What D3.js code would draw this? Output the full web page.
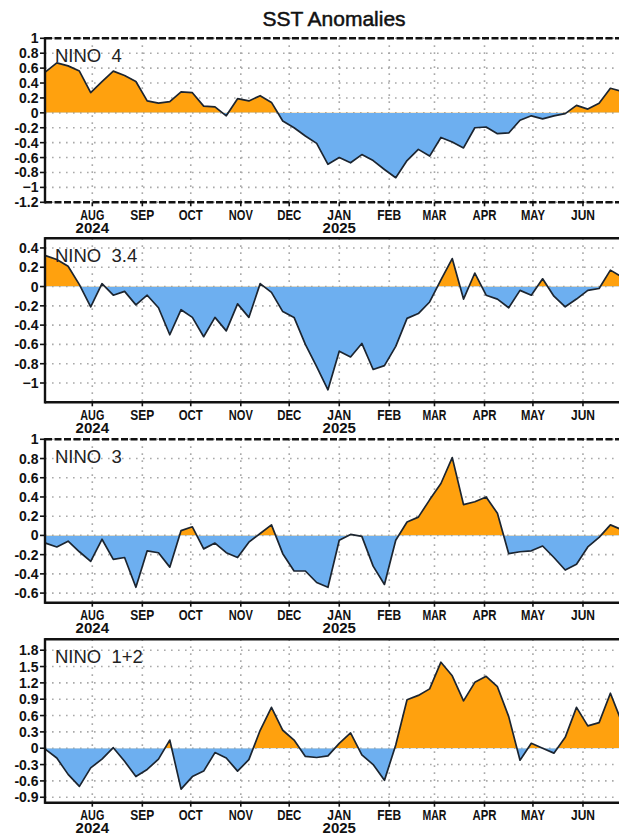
<!DOCTYPE html>
<html>
<head>
<meta charset="utf-8">
<script src="https://cdn.jsdelivr.net/npm/d3@7"></script>
<style>
  html, body { margin: 0; padding: 0; background: #fff; }
  svg { display: block; }
  text { font-family: "Liberation Sans", Arial, sans-serif; }
</style>
</head>
<body>
<svg id="chart" width="619" height="835"></svg>
<script>
// ---------------- DATA ----------------
const title = "SST Anomalies";
const firstWeek = "2024-07-03";   // weekly values (Wednesday-centred)
const monthLabels = ["AUG","SEP","OCT","NOV","DEC","JAN","FEB","MAR","APR","MAY","JUN"];
const monthDates = ["2024-08-01","2024-09-01","2024-10-01","2024-11-01","2024-12-01",
                    "2025-01-01","2025-02-01","2025-03-01","2025-04-01","2025-05-01","2025-06-01"];
const yearLabels = ["2024","2025"];
const yearDates = ["2024-08-01","2025-01-01"];

const panelNames = ["NINO  4", "NINO  3.4", "NINO  3", "NINO  1+2"];

const nino4 = [0.55,0.67,0.63,0.56,0.27,0.42,0.56,0.50,0.42,0.16,0.13,0.15,0.28,0.27,0.09,0.08,-0.04,
  0.19,0.16,0.23,0.14,-0.11,-0.20,-0.31,-0.41,-0.69,-0.60,-0.67,-0.56,-0.64,-0.76,-0.87,-0.64,-0.49,
  -0.58,-0.33,-0.39,-0.47,-0.20,-0.19,-0.28,-0.27,-0.10,-0.04,-0.08,-0.04,-0.01,0.10,0.05,0.13,0.33,0.29];
const nino34 = [0.32,0.28,0.21,0.02,-0.21,0.03,-0.09,-0.05,-0.19,-0.09,-0.22,-0.50,-0.24,-0.32,-0.52,
  -0.32,-0.46,-0.18,-0.32,0.03,-0.06,-0.26,-0.32,-0.60,-0.83,-1.07,-0.67,-0.73,-0.59,-0.86,-0.82,-0.62,
  -0.33,-0.28,-0.16,0.07,0.29,-0.13,0.14,-0.09,-0.13,-0.22,-0.04,-0.09,0.08,-0.10,-0.21,-0.13,-0.04,-0.02,0.17,0.10];
const nino3 = [-0.08,-0.12,-0.06,-0.17,-0.27,-0.04,-0.25,-0.23,-0.54,-0.16,-0.18,-0.33,0.05,0.09,-0.14,
  -0.08,-0.18,-0.23,-0.07,0.02,0.11,-0.19,-0.37,-0.37,-0.49,-0.54,-0.05,0.01,-0.01,-0.32,-0.51,-0.05,
  0.14,0.19,0.37,0.54,0.81,0.32,0.35,0.40,0.23,-0.19,-0.17,-0.16,-0.11,-0.23,-0.36,-0.30,-0.12,-0.02,0.11,0.06];
const nino12 = [-0.02,-0.18,-0.48,-0.70,-0.36,-0.20,0.01,-0.24,-0.52,-0.39,-0.20,0.15,-0.75,-0.52,-0.42,
  -0.08,-0.18,-0.42,-0.21,0.33,0.75,0.33,0.15,-0.15,-0.17,-0.14,0.09,0.28,-0.12,-0.30,-0.59,0.06,
  0.89,0.97,1.09,1.58,1.33,0.87,1.21,1.32,1.13,0.58,-0.22,0.09,0.00,-0.09,0.20,0.75,0.41,0.47,1.01,0.48];

const ticks4  = [1,0.8,0.6,0.4,0.2,0,-0.2,-0.4,-0.6,-0.8,-1,-1.2];
const ticks34 = [0.4,0.2,0,-0.2,-0.4,-0.6,-0.8,-1];
const ticks3  = [1,0.8,0.6,0.4,0.2,0,-0.2,-0.4,-0.6];
const ticks12 = [1.8,1.5,1.2,0.9,0.6,0.3,0,-0.3,-0.6,-0.9];

const domain4 = [-1.2, 1], domain34 = [-1.2, 0.5], domain3 = [-0.7, 1], domain12 = [-1, 2];

// ---------------- LAYOUT ----------------
const svg = d3.select("#chart");
const posColor = "#FFA10E", negColor = "#6DAFF0", lineColor = "#1c2530";
const left = 45, right = 626;
const panelTops = [38.3, 238.3, 439.3, 639.3];
const panelBottoms = [202.3, 402.3, 602.7, 802.7];

const parse = d3.utcParse("%Y-%m-%d");
const t0 = parse(firstWeek);
const x = d3.scaleUtc()
  .domain([t0, d3.utcDay.offset(t0, 357)])
  .range([45.5, 45.5 + 357 * 1.614]);

const panels = [
  {name: panelNames[0], values: nino4,  domain: domain4,  ticks: ticks4},
  {name: panelNames[1], values: nino34, domain: domain34, ticks: ticks34},
  {name: panelNames[2], values: nino3,  domain: domain3,  ticks: ticks3},
  {name: panelNames[3], values: nino12, domain: domain12, ticks: ticks12},
];

function fmt(v) {
  const r = Math.round(v * 10) / 10;
  if (r === 0) return "0";
  if (Number.isInteger(r) && r < 0) return "\u2212" + Math.abs(r);
  return String(r);
}

svg.append("text")
  .attr("x", 334).attr("y", 26)
  .attr("text-anchor", "middle")
  .attr("font-size", 21).attr("font-weight", "normal")
  .attr("fill", "#111").attr("stroke", "#111").attr("stroke-width", 0.5)
  .text(title);

const defs = svg.append("defs");

panels.forEach((p, i) => {
  const top = panelTops[i], bottom = panelBottoms[i];
  const y = d3.scaleLinear().domain(p.domain).range([bottom, top]);
  const g = svg.append("g");
  const data = p.values.map((v, k) => ({date: d3.utcDay.offset(t0, 7 * k), v}));
  const y0 = y(0);

  // clip paths for positive / negative fill
  defs.append("clipPath").attr("id", "pos" + i)
    .append("rect").attr("x", left).attr("y", top).attr("width", right - left).attr("height", y0 - top);
  defs.append("clipPath").attr("id", "neg" + i)
    .append("rect").attr("x", left).attr("y", y0).attr("width", right - left).attr("height", bottom - y0);
  defs.append("clipPath").attr("id", "plot" + i)
    .append("rect").attr("x", left).attr("y", top).attr("width", right - left).attr("height", bottom - top);

  // gridlines
  const grid = g.append("g").attr("stroke", "#a9a9a9").attr("stroke-width", 1.6)
    .attr("stroke-dasharray", "1.6,5.4");
  p.ticks.forEach(t => {
    grid.append("line").attr("x1", left).attr("x2", right).attr("y1", y(t)).attr("y2", y(t));
  });
  monthDates.forEach(d => {
    const xx = x(parse(d));
    grid.append("line").attr("x1", xx).attr("x2", xx).attr("y1", top).attr("y2", bottom);
  });

  // fills
  const area = d3.area().x(d => x(d.date)).y0(y0).y1(d => y(d.v));
  g.append("path").datum(data).attr("d", area).attr("fill", posColor).attr("clip-path", `url(#pos${i})`);
  g.append("path").datum(data).attr("d", area).attr("fill", negColor).attr("clip-path", `url(#neg${i})`);

  // line
  const line = d3.line().x(d => x(d.date)).y(d => y(d.v));
  g.append("path").datum(data).attr("d", line).attr("fill", "none")
    .attr("stroke", lineColor).attr("stroke-width", 1.7).attr("stroke-linejoin", "round")
    .attr("clip-path", `url(#plot${i})`);

  // frame
  const isTick = v => p.ticks.some(t => Math.abs(t - v) < 1e-6);
  const frame = g.append("g").attr("stroke", "#111").attr("stroke-width", 2.4);
  frame.append("line").attr("x1", left).attr("x2", right).attr("y1", top).attr("y2", top)
    .attr("stroke-dasharray", isTick(p.domain[1]) ? "7,2.5" : null);
  frame.append("line").attr("x1", left).attr("x2", right).attr("y1", bottom).attr("y2", bottom)
    .attr("stroke-dasharray", isTick(p.domain[0]) ? "7,2.5" : null);
  frame.append("line").attr("x1", left).attr("x2", left).attr("y1", top - 1.2).attr("y2", bottom + 1.2);
  frame.append("line").attr("x1", right).attr("x2", right).attr("y1", top).attr("y2", bottom);

  // y axis ticks + labels
  const yAxis = g.append("g");
  p.ticks.forEach(t => {
    yAxis.append("line").attr("x1", left - 5).attr("x2", left).attr("y1", y(t)).attr("y2", y(t))
      .attr("stroke", "#111").attr("stroke-width", 1.6);
    yAxis.append("text").attr("x", 38.5).attr("y", y(t) + 5)
      .attr("text-anchor", "end").attr("font-size", 14).attr("font-weight", "bold").attr("fill", "#111")
      .text(fmt(t));
  });

  // x axis ticks + labels
  monthDates.forEach((d, k) => {
    const xx = x(parse(d));
    g.append("line").attr("x1", xx).attr("x2", xx).attr("y1", bottom).attr("y2", bottom + 4)
      .attr("stroke", "#111").attr("stroke-width", 1.6);
    g.append("text").attr("x", xx).attr("y", bottom + 17.5)
      .attr("text-anchor", "middle").attr("font-size", 15).attr("font-weight", "bold").attr("fill", "#111")
      .attr("textLength", 24).attr("lengthAdjust", "spacingAndGlyphs")
      .text(monthLabels[k]);
  });
  yearDates.forEach((d, k) => {
    g.append("text").attr("x", x(parse(d))).attr("y", bottom + 30.5)
      .attr("text-anchor", "middle").attr("font-size", 15).attr("font-weight", "bold").attr("fill", "#111")
      .text(yearLabels[k]);
  });

  // panel name
  g.append("text").attr("x", 55).attr("y", top + 24)
    .attr("font-size", 18.5).attr("fill", "#222").style("white-space", "pre")
    .text(p.name);
});
</script>
</body>
</html>
